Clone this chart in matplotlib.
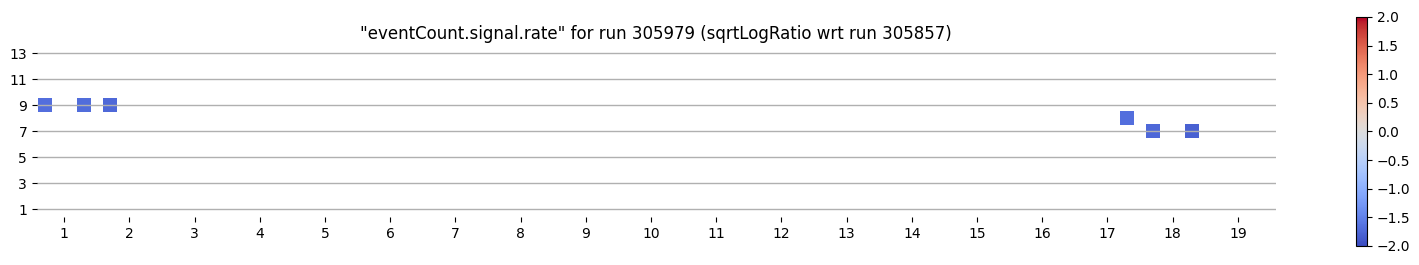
import matplotlib
matplotlib.use('Agg')
import matplotlib.pyplot as plt

# lumisection bins vs. y bins, value = sqrtLogRatio
xs = [0.7, 1.3, 1.7, 17.3, 17.7, 18.3]
ys = [9, 9, 9, 8, 7, 7]
vals = [-1.68, -1.7, -1.75, -1.68, -1.75, -1.8]
yticks = [1, 3, 5, 7, 9, 11, 13]
xticks = list(range(1, 20))

fig = plt.figure(figsize=(14.19, 2.65), dpi=100)
ax = fig.add_axes([0.026, 0.181, 0.873, 0.642])
cax = fig.add_axes([0.9556, 0.072, 0.0078, 0.864])

sc = ax.scatter(xs, ys, c=vals, cmap='coolwarm', vmin=-2, vmax=2,
                marker='s', s=105, linewidths=0, zorder=1)
ax.set_xlim(0.58, 19.58)
ax.set_ylim(0.4, 13.5)
ax.set_xticks(xticks)
ax.set_yticks(yticks)
ax.set_axisbelow(False)
ax.grid(axis='y', color='#b0b0b0', linewidth=1)
for sp in ax.spines.values():
    sp.set_visible(False)
ax.set_title('"eventCount.signal.rate" for run 305979 (sqrtLogRatio wrt run 305857)',
             fontsize=12)

cb = fig.colorbar(sc, cax=cax)
cb.set_ticks([-2.0, -1.5, -1.0, -0.5, 0.0, 0.5, 1.0, 1.5, 2.0])

fig.savefig('out.png', dpi=100)
